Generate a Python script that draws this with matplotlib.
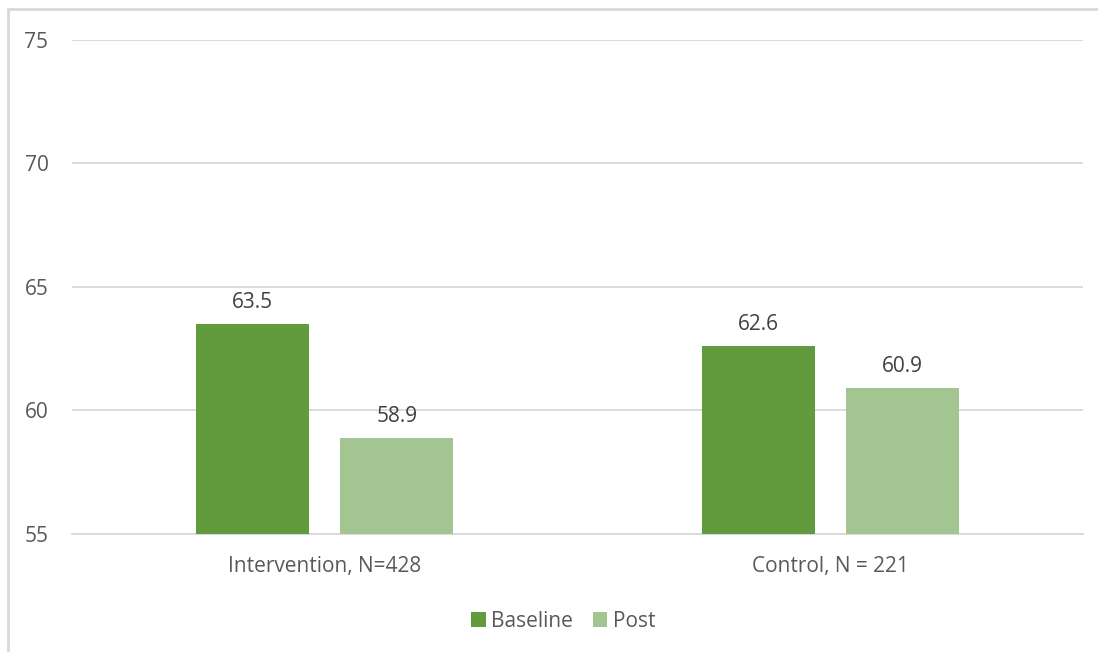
import matplotlib.pyplot as plt
import numpy as np
from matplotlib.patches import Rectangle

# dane wykresu
groups = ["Intervention, N=428", "Control, N = 221"]
baseline = [63.5, 62.6]
post = [58.9, 60.9]
series_names = ["Baseline", "Post"]
y_ticks = [55, 60, 65, 70, 75]

dark_green = "#629a3e"
light_green = "#a3c591"
grid_color = "#d9d9d9"
text_color = "#595959"

plt.rcParams["font.family"] = ["Open Sans", "DejaVu Sans"]
fs = 15

fig = plt.figure(figsize=(10.98, 6.52), dpi=100)
ax = fig.add_axes([0.0656, 0.181, 0.9207, 0.7577])

x = np.arange(len(groups))
width = 0.2236
offset = 0.1424

b1 = ax.bar(x - offset, baseline, width, color=dark_green, label=series_names[0], zorder=3)
b2 = ax.bar(x + offset, post, width, color=light_green, label=series_names[1], zorder=3)

for bars, vals in [(b1, baseline), (b2, post)]:
    for rect, v in zip(bars, vals):
        ax.annotate(f"{v:.1f}", (rect.get_x() + rect.get_width() / 2, v),
                    xytext=(0, 8), textcoords="offset points",
                    ha="center", va="bottom", fontsize=fs, color="#404040")

ax.set_ylim(55, 75)
ax.set_xlim(-0.5, 1.5)
ax.set_yticks(y_ticks)
ax.set_xticks(x)
ax.set_xticklabels(groups)
ax.yaxis.grid(True, color=grid_color, linewidth=1.3, zorder=0)
ax.tick_params(axis="both", length=0, labelsize=fs, labelcolor=text_color)
ax.tick_params(axis="y", pad=17)
ax.tick_params(axis="x", pad=16)
for s in ["top", "right", "left"]:
    ax.spines[s].set_visible(False)
ax.spines["bottom"].set_color(grid_color)
ax.spines["bottom"].set_linewidth(1.3)

leg = fig.legend(loc="center", bbox_to_anchor=(0.513, 0.047), ncol=2, frameon=False,
                 fontsize=fs, handlelength=0.7, handleheight=0.7, handletextpad=0.25,
                 columnspacing=0.95)
for t in leg.get_texts():
    t.set_color(text_color)

# ramka wykresu
fig.patches.append(Rectangle((8 / 1098, -0.05), 1.2, 1 - 9 / 652 + 0.05,
                             transform=fig.transFigure, fill=False,
                             edgecolor=grid_color, linewidth=2))

fig.savefig("out.png", dpi=100)
